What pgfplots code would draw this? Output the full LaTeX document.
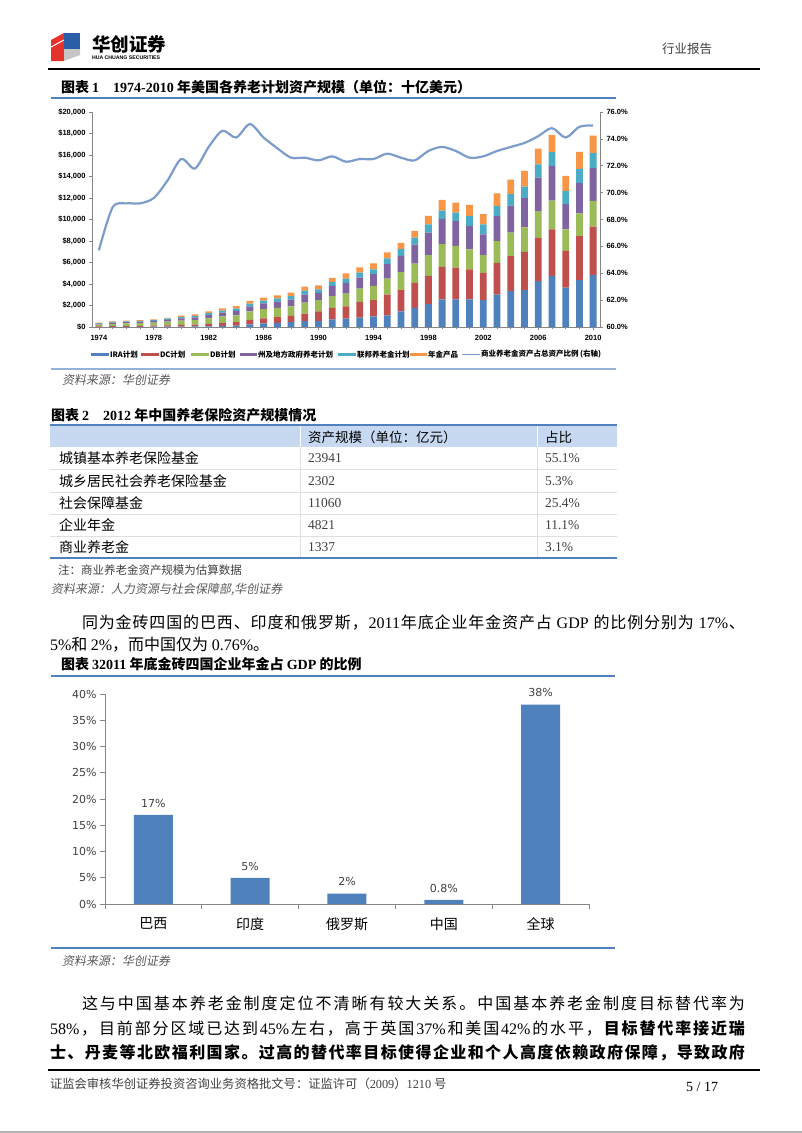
\documentclass[border=0pt]{standalone}
\usepackage{pgfplots}
\pgfplotsset{compat=1.18}
\usepackage{pgfplotstable}
\usepackage{fontspec}
\setmainfont{Liberation Serif}
\newfontfamily\cjk{Noto Sans CJK SC}
\newfontfamily\cjkit[FakeSlant=0.18]{Noto Sans CJK SC}
\newfontfamily\lat{Liberation Serif}
\newfontfamily\lsans{Liberation Sans}
\newfontfamily\dv{DejaVu Sans}
\newcommand\fs[1]{\fontsize{#1}{#1}\selectfont}
\makeatletter
\def\stopspread{\stopspread@}
\def\spreadit#1{\ifx\stopspread#1\else{#1}\hskip 0pt plus 1fil\relax\expandafter\spreadit\fi}
\makeatother
\newcommand\jline[2]{\makebox[#1][s]{#2}}
\definecolor{cA}{HTML}{4F81BD}
\definecolor{cB}{HTML}{C0504D}
\definecolor{cC}{HTML}{9BBB59}
\definecolor{cD}{HTML}{8064A2}
\definecolor{cE}{HTML}{4BACC6}
\definecolor{cF}{HTML}{F79646}
\definecolor{lineblue}{HTML}{7C9CCB}
\definecolor{axgray}{HTML}{868686}
\definecolor{ruleblue}{HTML}{4F81BD}
\definecolor{rulegray}{HTML}{95B3D7}
\definecolor{srcgray}{HTML}{595959}
\definecolor{txtgray}{HTML}{404040}
\definecolor{thead}{HTML}{C6D9F1}
\definecolor{logored}{HTML}{E5322D}
\definecolor{logoblue}{HTML}{2C5DA8}

\pgfplotstableread{
year ira dc db sl fed ann ratio
1974 0 50 170 90 50 40 65.7
1975 10 70 220 110 60 50 68.9
1976 10 80 240 130 70 60 69.2
1977 20 90 260 140 70 70 69.2
1978 30 100 280 150 80 70 69.6
1979 30 120 340 180 100 90 70.9
1980 40 150 400 220 120 120 72.5
1981 50 170 430 250 140 140 71.8
1982 70 220 520 300 170 180 73.4
1983 100 280 600 350 200 210 74.6
1984 140 320 630 400 220 240 74.1
1985 240 420 800 470 240 250 75.1
1986 330 480 860 520 270 270 74.1
1987 390 520 870 580 300 290 73.3
1988 460 570 880 640 320 320 72.6
1989 550 700 1020 750 360 370 72.6
1990 560 900 1030 680 340 370 72.4
1991 720 1060 1090 960 370 370 72.7
1992 780 1150 1180 1000 400 470 72.3
1993 870 1460 1240 1030 470 470 72.5
1994 1000 1490 1340 1090 440 560 72.5
1995 1090 1930 1490 1340 530 560 72.9
1996 1460 1960 1710 1490 620 590 72.6
1997 1770 2330 1800 1770 650 620 72.4
1998 2120 2640 1930 2080 780 780 73.1
1999 2580 3020 2120 2330 780 1000 73.4
2000 2580 2950 2020 2300 780 930 73.1
2001 2580 2770 1870 2180 930 1030 72.6
2002 2490 2550 1650 1930 930 960 72.7
2003 3020 2950 2020 2330 930 1180 73.1
2004 3330 3270 2180 2520 1060 1340 73.4
2005 3420 3580 2270 2710 1090 1460 73.7
2006 4260 4040 2490 3110 1240 1460 74.2
2007 4760 4320 2670 3230 1280 1590 74.8
2008 3670 3420 1990 2360 1210 1400 74.1
2009 4350 4110 2120 2800 1340 1560 74.9
2010 4820 4510 2400 3050 1400 1620 75.0
}\usdata

\begin{document}
\begin{tikzpicture}
\path[use as bounding box, fill=white] (0pt,0pt) rectangle (802pt,-1133pt);
\begin{scope}[x=1pt, y=-1pt, every node/.style={inner sep=0pt, outer sep=0pt}]
% ---------- header ----------
\fill[logored] (51,40) -- (64,33) -- (64,61) -- (51,61) -- cycle;
\fill[logoblue] (64,33) -- (80,33) -- (80,49) -- (64,49) -- cycle;
\fill[gray!45] (64,49) -- (80,49) -- (80,55) -- (64,61) -- cycle;
\draw[white, line width=1pt] (51,47) -- (64,40);
\node[anchor=west] at (92,44) {\cjk\bfseries\fs{18.5}华创证券};
\node[anchor=west] at (92,57.5) {\lsans\bfseries\fs{5.2}HUA CHUANG SECURITIES};
\node[anchor=east, text=txtgray] at (712,49) {\cjk\fs{12.5}行业报告};
\draw[line width=1.3pt] (48,69) -- (760,69);
% ---------- figure 1 title ----------
\node[anchor=west] at (61,87) {\cjk\bfseries\fs{14}图表 {\lat\bfseries 1}\hspace{14pt}{\lat\bfseries 1974-2010} 年美国各养老计划资产规模（单位：十亿美元）};
\draw[ruleblue, line width=1.2pt] (51,98) -- (616,98);
% legend
\newcommand\lbl{\cjk\bfseries\fs{7.5}}
\fill[cA] (91,353) rectangle (109,356); \node[anchor=west] at (110,354.5) {\lbl IRA计划};
\fill[cB] (141,353) rectangle (159,356); \node[anchor=west] at (160,354.5) {\lbl DC计划};
\fill[cC] (191,353) rectangle (209,356); \node[anchor=west] at (210,354.5) {\lbl DB计划};
\fill[cD] (240,353) rectangle (257,356); \node[anchor=west] at (258,354.5) {\lbl 州及地方政府养老计划};
\fill[cE] (338,353) rectangle (356,356); \node[anchor=west] at (357,354.5) {\lbl 联邦养老金计划};
\fill[cF] (410,353) rectangle (427,356); \node[anchor=west] at (428,354.5) {\lbl 年金产品};
\draw[lineblue, line width=1.5pt] (462,354.5) -- (480,354.5); \node[anchor=west] at (481,354.5) {\lbl 商业养老金资产占总资产比例 (右轴)};
\draw[rulegray, line width=2pt] (51,369) -- (616,369);
\node[anchor=west, text=srcgray] at (62,380) {\cjkit\fs{12}资料来源：华创证券};
% ---------- table ----------
\node[anchor=west] at (51,415) {\cjk\bfseries\fs{14}图表 {\lat\bfseries 2}\hspace{14pt}{\lat\bfseries 2012} 年中国养老保险资产规模情况};
\fill[thead] (50,425) rectangle (617,447);
\draw[white, line width=1pt] (300,425) -- (300,447) (537,425) -- (537,447);
\draw[gray!25, line width=0.6pt] (300,447) -- (300,558) (537,447) -- (537,558);
\foreach \yy in {469,492,514,536} {\draw[gray!25, line width=0.6pt] (50,\yy) -- (617,\yy);}
\draw[ruleblue, line width=1.4pt] (50,425) -- (617,425);
\draw[ruleblue, line width=1.4pt] (50,558) -- (617,558);
\node[anchor=west] at (308,437) {\cjk\fs{13.5}资产规模（单位：亿元）};
\node[anchor=west] at (545,437) {\cjk\fs{13.5}占比};
\node[anchor=west] at (59,458) {\cjk\fs{14}城镇基本养老保险基金};
\node[anchor=west] at (59,481) {\cjk\fs{14}城乡居民社会养老保险基金};
\node[anchor=west] at (59,503) {\cjk\fs{14}社会保障基金};
\node[anchor=west] at (59,525) {\cjk\fs{14}企业年金};
\node[anchor=west] at (59,547) {\cjk\fs{14}商业养老金};
\node[anchor=west, text=txtgray] at (308,458) {\lat\fs{13.5}23941};
\node[anchor=west, text=txtgray] at (308,481) {\lat\fs{13.5}2302};
\node[anchor=west, text=txtgray] at (308,503) {\lat\fs{13.5}11060};
\node[anchor=west, text=txtgray] at (308,525) {\lat\fs{13.5}4821};
\node[anchor=west, text=txtgray] at (308,547) {\lat\fs{13.5}1337};
\node[anchor=west, text=txtgray] at (545,458) {\lat\fs{13.5}55.1\%};
\node[anchor=west, text=txtgray] at (545,481) {\lat\fs{13.5}5.3\%};
\node[anchor=west, text=txtgray] at (545,503) {\lat\fs{13.5}25.4\%};
\node[anchor=west, text=txtgray] at (545,525) {\lat\fs{13.5}11.1\%};
\node[anchor=west, text=txtgray] at (545,547) {\lat\fs{13.5}3.1\%};
\node[anchor=west, text=txtgray] at (58,570) {\cjk\fs{11.5}注：商业养老金资产规模为估算数据};
\node[anchor=west, text=srcgray] at (51,590) {\cjkit\fs{12}资料来源：人力资源与社会保障部,华创证券};
% ---------- paragraph 1 ----------
\node[anchor=west] at (82,623) {\jline{663pt}{\cjk\fs{16}\spreadit 同为金砖四国的巴西、印度和俄罗斯，{\lat 2011}年底企业年金资产占{\lat\ GDP\ }的比例分别为{\lat\ 17\%}、\stopspread\unskip}};
\node[anchor=west] at (50,645) {\cjk\fs{16}{\lat 5\%}和 {\lat 2\%}，而中国仅为 {\lat 0.76\%}。};
\node[anchor=west] at (61,664) {\cjk\bfseries\fs{14}图表 {\lat\bfseries 32011} 年底金砖四国企业年金占 {\lat\bfseries GDP} 的比例};
\draw[ruleblue, line width=1.2pt] (51,676) -- (615,676);
\draw[ruleblue, line width=1.8pt] (51,948) -- (615,948);
\node[anchor=west, text=srcgray] at (62,961) {\cjkit\fs{12}资料来源：华创证券};
% ---------- paragraph 2 ----------
\node[anchor=west] at (82,1003) {\jline{663pt}{\cjk\fs{16}\spreadit 这与中国基本养老金制度定位不清晰有较大关系。中国基本养老金制度目标替代率为\stopspread\unskip}};
\node[anchor=west] at (50,1028) {\jline{695pt}{\cjk\fs{16}\spreadit{\lat 58\%}，目前部分区域已达到{\lat 45\%}左右，高于英国{\lat 37\%}和美国{\lat 42\%}的水平，\stopspread{\bfseries\spreadit 目标替代率接近瑞\stopspread}\unskip}};
\node[anchor=west] at (50,1053) {\jline{695pt}{\cjk\bfseries\fs{16}\spreadit 士、丹麦等北欧福利国家。过高的替代率目标使得企业和个人高度依赖政府保障，导致政府\stopspread\unskip}};
% ---------- footer ----------
\draw[line width=1.3pt] (48,1070) -- (760,1070);
\node[anchor=west, text=txtgray] at (50,1084) {\cjk\fs{12.3}证监会审核华创证券投资咨询业务资格批文号：证监许可（{\lat 2009}）{\lat 1210} 号};
\node[anchor=east] at (718,1087) {\lat\fs{14}5 / 17};
\draw[gray!60, line width=1.5pt] (0,1132) -- (802,1132);
\end{scope}

% ---------- chart 1: stacked bars ----------
\begin{axis}[
 at={(92pt,-327pt)}, anchor=south west,
 scale only axis, width=508pt, height=215pt,
 xmin=1973.5, xmax=2010.5, ymin=0, ymax=20000,
 ybar stacked, bar width=6.8pt,
 axis x line*=bottom, axis y line*=left,
 axis line style={draw=axgray, line width=0.7pt, -},
 tick style={draw=axgray, line width=0.6pt},
 tick align=outside, major tick length=3pt, minor tick length=2pt,
 xtick={1974,1978,1982,1986,1990,1994,1998,2002,2006,2010},
 xticklabels={1974,1978,1982,1986,1990,1994,1998,2002,2006,2010},
 minor xtick={1975,1976,...,2009},
 ytick={0,2000,...,20000},
 yticklabels={{\$0},{\$2,000},{\$4,000},{\$6,000},{\$8,000},{\$10,000},{\$12,000},{\$14,000},{\$16,000},{\$18,000},{\$20,000}},
 scaled y ticks=false,
 ticklabel style={font=\lsans\bfseries\fs{7.5}, text=black},
 xticklabel style={yshift=-2pt},
]
\addplot[fill=cA, draw=none] table[x=year, y=ira]{\usdata};
\addplot[fill=cB, draw=none] table[x=year, y=dc]{\usdata};
\addplot[fill=cC, draw=none] table[x=year, y=db]{\usdata};
\addplot[fill=cD, draw=none] table[x=year, y=sl]{\usdata};
\addplot[fill=cE, draw=none] table[x=year, y=fed]{\usdata};
\addplot[fill=cF, draw=none] table[x=year, y=ann]{\usdata};
\end{axis}
\begin{axis}[
 at={(92pt,-327pt)}, anchor=south west,
 scale only axis, width=508pt, height=215pt,
 xmin=1973.5, xmax=2010.5, ymin=60, ymax=76,
 axis y line*=right, axis x line=none,
 axis line style={draw=axgray, line width=0.7pt, -},
 tick style={draw=axgray, line width=0.6pt},
 tick align=outside, major tick length=3pt,
 ytick={60,62,...,76},
 yticklabels={60.0\%,62.0\%,64.0\%,66.0\%,68.0\%,70.0\%,72.0\%,74.0\%,76.0\%},
 ticklabel style={font=\lsans\bfseries\fs{7.5}, text=black},
]
\addplot[smooth, lineblue, line width=2.2pt, mark=none] table[x=year, y=ratio]{\usdata};
\end{axis}

% ---------- chart 3 ----------
\begin{axis}[
 at={(105pt,-904pt)}, anchor=south west,
 scale only axis, width=484pt, height=210pt,
 xmin=-0.5, xmax=4.5, ymin=0, ymax=40,
 ybar, bar width=39pt,
 axis x line*=bottom, axis y line*=left,
 axis line style={draw=axgray, line width=0.8pt, -},
 tick style={draw=axgray, line width=0.7pt},
 tick align=outside, major tick length=5pt,
 xtick={-0.5,0.5,1.5,2.5,3.5,4.5},
 xticklabels={巴西,印度,俄罗斯,中国,全球,{}},
 xticklabel style={font=\cjk\fs{14}, text=black, xshift=48.4pt, yshift=-5pt},
 ytick={0,5,...,40},
 yticklabels={0\%,5\%,10\%,15\%,20\%,25\%,30\%,35\%,40\%},
 yticklabel style={font=\dv\fs{11}, text=txtgray},
 nodes near coords, point meta=explicit symbolic,
 nodes near coords style={font=\dv\fs{11}, text=txtgray, anchor=south, yshift=4pt},
]
\addplot[fill=cA, draw=none] coordinates {(0,17)[17\%] (1,5)[5\%] (2,2)[2\%] (3,0.8)[0.8\%] (4,38)[38\%]};
\end{axis}
\end{tikzpicture}
\end{document}
